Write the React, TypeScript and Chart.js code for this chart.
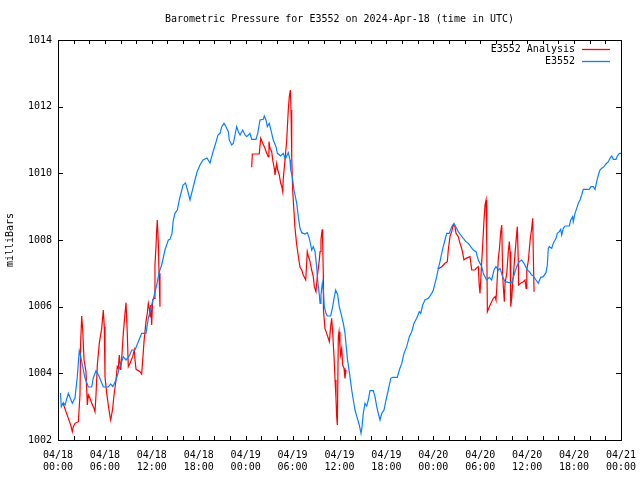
import React, { useEffect, useRef } from 'react';
import { Chart, registerables } from 'chart.js';

Chart.register(...registerables);

const TITLE = 'Barometric Pressure for E3552 on 2024-Apr-18 (time in UTC)';
const Y_LABEL = 'milliBars';
const SERIES_NAMES = ['E3552 Analysis', 'E3552'];
const SERIES_COLORS = ['#ff0000', '#0a80ff'];
const X_TICK_DATES = ['04/18', '04/18', '04/18', '04/18', '04/19', '04/19', '04/19', '04/19', '04/20', '04/20', '04/20', '04/20', '04/21'];
const X_TICK_TIMES = ['00:00', '06:00', '12:00', '18:00', '00:00', '06:00', '12:00', '18:00', '00:00', '06:00', '12:00', '18:00', '00:00'];
const Y_MIN = 1002;
const Y_MAX = 1014;
const HOURS_TOTAL = 72;

// E3552 observations: [hours since 04/18 00:00 UTC, pressure mb]
const e3552Obs: [number, number][] = [
  [0.32,1003.41],[0.42,1003.00],[0.68,1003.12],[0.90,1003.05],[1.32,1003.40],[1.83,1003.10],[2.17,1003.26],[2.47,1003.90],[2.72,1004.68],[2.90,1004.50],[3.16,1004.20],[3.45,1003.86],[3.88,1003.59],[4.31,1003.59],[4.51,1003.86],[4.86,1004.08],[5.28,1003.90],[5.79,1003.59],[6.43,1003.59],[6.74,1003.68],[7.00,1003.60],[7.42,1003.80],[7.76,1004.08],[8.35,1004.50],[8.70,1004.40],[9.12,1004.52],[9.43,1004.70],[9.85,1004.70],[10.27,1004.95],[10.70,1005.20],[11.25,1005.20],[11.55,1005.65],[11.98,1006.05],[12.28,1006.32],[12.62,1006.65],[12.96,1007.05],[13.26,1007.25],[13.68,1007.70],[14.11,1008.00],[14.32,1008.02],[14.58,1008.20],[14.75,1008.60],[14.96,1008.80],[15.26,1008.90],[15.51,1009.20],[15.99,1009.65],[16.31,1009.71],[16.63,1009.44],[16.88,1009.20],[17.26,1009.56],[17.78,1010.04],[18.16,1010.25],[18.54,1010.40],[19.05,1010.46],[19.44,1010.31],[19.82,1010.64],[20.21,1010.94],[20.46,1011.15],[20.72,1011.20],[20.94,1011.40],[21.23,1011.50],[21.49,1011.40],[21.78,1011.25],[21.91,1011.00],[22.21,1010.85],[22.42,1010.90],[22.64,1011.15],[22.85,1011.40],[23.06,1011.25],[23.28,1011.15],[23.62,1011.30],[23.92,1011.15],[24.13,1011.10],[24.55,1011.20],[24.77,1011.02],[25.32,1011.02],[25.54,1011.20],[25.83,1011.60],[26.26,1011.62],[26.38,1011.72],[26.60,1011.60],[26.77,1011.40],[27.02,1011.50],[27.33,1011.20],[27.53,1011.00],[27.88,1010.80],[28.05,1010.60],[28.48,1010.52],[28.81,1010.60],[29.07,1010.43],[29.45,1010.62],[29.67,1010.40],[29.76,1010.10],[29.96,1009.90],[30.18,1009.50],[30.53,1009.10],[30.73,1008.70],[30.95,1008.35],[31.17,1008.22],[31.59,1008.18],[31.88,1008.22],[32.14,1008.05],[32.32,1007.85],[32.44,1007.70],[32.65,1007.80],[32.87,1007.65],[33.08,1007.20],[33.21,1006.80],[33.42,1006.35],[33.51,1006.10],[33.63,1006.35],[33.80,1006.70],[33.93,1006.50],[34.06,1006.00],[34.27,1005.80],[34.44,1005.72],[34.87,1005.72],[35.13,1006.00],[35.30,1006.25],[35.51,1006.50],[35.77,1006.35],[35.97,1006.00],[36.19,1005.80],[36.49,1005.50],[36.70,1005.21],[37.00,1004.45],[37.34,1003.90],[37.56,1003.50],[37.77,1003.20],[37.98,1002.90],[38.28,1002.65],[38.53,1002.45],[38.75,1002.20],[38.88,1002.40],[39.04,1002.80],[39.26,1003.10],[39.48,1003.02],[39.68,1003.20],[39.90,1003.48],[40.32,1003.48],[40.54,1003.30],[40.76,1003.00],[40.96,1002.80],[41.18,1002.60],[41.40,1002.80],[41.69,1002.90],[41.95,1003.20],[42.24,1003.50],[42.55,1003.85],[42.80,1003.88],[43.39,1003.88],[43.65,1004.10],[43.96,1004.30],[44.25,1004.60],[44.59,1004.80],[44.93,1005.10],[45.23,1005.25],[45.53,1005.50],[45.87,1005.65],[46.21,1005.85],[46.39,1005.80],[46.64,1006.05],[46.93,1006.20],[47.36,1006.25],[47.79,1006.40],[48.00,1006.50],[48.21,1006.70],[48.43,1006.90],[48.64,1007.15],[48.85,1007.35],[49.07,1007.60],[49.27,1007.80],[49.49,1008.00],[49.71,1008.20],[50.04,1008.20],[50.35,1008.40],[50.64,1008.50],[50.90,1008.38],[51.19,1008.25],[51.50,1008.15],[51.83,1008.05],[52.18,1007.95],[52.47,1007.90],[52.78,1007.80],[53.11,1007.70],[53.46,1007.65],[53.75,1007.40],[54.19,1007.20],[54.39,1007.00],[54.82,1006.80],[55.16,1006.88],[55.46,1006.80],[55.76,1007.10],[56.01,1007.20],[56.31,1007.10],[56.53,1007.15],[56.87,1006.90],[57.17,1006.75],[57.72,1006.72],[58.02,1006.72],[58.32,1006.95],[58.66,1007.20],[58.99,1007.35],[59.30,1007.40],[59.60,1007.30],[60.02,1007.10],[60.28,1007.05],[60.58,1006.95],[60.79,1006.92],[61.13,1006.80],[61.42,1006.70],[61.73,1006.88],[62.06,1006.90],[62.41,1007.02],[62.58,1007.25],[62.70,1007.75],[62.83,1007.80],[63.14,1007.75],[63.34,1007.90],[63.69,1008.05],[63.85,1008.20],[64.11,1008.25],[64.29,1008.32],[64.42,1008.15],[64.62,1008.35],[64.84,1008.42],[65.39,1008.42],[65.57,1008.60],[65.82,1008.70],[65.90,1008.55],[66.12,1008.80],[66.34,1008.95],[66.54,1009.10],[66.76,1009.20],[66.97,1009.35],[67.18,1009.52],[67.95,1009.52],[68.16,1009.60],[68.46,1009.60],[68.68,1009.52],[68.89,1009.75],[69.10,1009.95],[69.31,1010.10],[69.53,1010.15],[69.83,1010.20],[70.08,1010.28],[70.38,1010.35],[70.59,1010.45],[70.81,1010.52],[71.02,1010.42],[71.36,1010.42],[71.53,1010.52],[71.79,1010.60],[72.00,1010.60]
];

// E3552 Analysis, three separate runs (gaps between them)
const analysisRun1: [number, number][] = [
  [0.64,1003.11],[0.77,1003.02],[1.02,1002.85],[1.32,1002.65],[1.62,1002.45],[1.83,1002.25],[1.96,1002.40],[2.17,1002.50],[2.60,1002.55],[2.81,1003.35],[2.90,1004.95],[3.03,1005.72],[3.16,1005.30],[3.33,1004.40],[3.58,1004.05],[3.75,1003.05],[3.88,1003.35],[4.09,1003.25],[4.31,1003.10],[4.60,1002.95],[4.73,1002.85],[4.86,1003.35],[5.03,1004.25],[5.28,1004.90],[5.59,1005.35],[5.79,1005.90],[5.92,1005.40],[6.01,1003.90],[6.23,1003.40],[6.43,1003.05],[6.65,1002.70],[6.74,1002.60],[7.00,1002.95],[7.16,1003.35],[7.42,1003.80],[7.58,1004.20],[7.71,1004.15],[7.84,1004.55],[8.02,1004.10],[8.15,1004.45],[8.35,1005.20],[8.57,1005.80],[8.70,1006.12],[8.86,1005.20],[8.99,1004.20],[9.21,1004.30],[9.55,1004.50],[9.76,1004.70],[9.85,1004.40],[9.98,1004.12],[10.49,1004.05],[10.70,1003.98],[10.83,1004.40],[11.00,1004.95],[11.25,1005.55],[11.42,1005.80],[11.55,1006.10],[11.68,1005.95],[11.77,1005.70],[11.86,1006.05],[11.98,1005.45],[12.11,1006.20],[12.28,1006.25],[12.40,1007.25],[12.53,1007.80],[12.62,1008.30],[12.70,1008.60],[12.83,1007.90],[12.92,1007.00],[13.04,1006.00]
];
const analysisRun2: [number, number][] = [
  [24.77,1010.18],[24.85,1010.58],[25.74,1010.58],[25.92,1011.05],[26.18,1010.90],[26.47,1010.75],[26.69,1010.60],[26.89,1010.50],[26.98,1010.95],[27.11,1010.75],[27.33,1010.65],[27.46,1010.40],[27.66,1010.15],[27.75,1009.95],[27.97,1010.30],[28.10,1010.10],[28.30,1009.95],[28.48,1009.70],[28.61,1009.62],[28.74,1009.45],[28.81,1009.85],[29.03,1010.40],[29.25,1011.00],[29.45,1011.90],[29.58,1012.30],[29.71,1012.50],[29.80,1011.90],[29.89,1010.50],[30.01,1009.50],[30.18,1008.85],[30.31,1008.35],[30.53,1007.85],[30.73,1007.52],[30.95,1007.18],[31.17,1007.10],[31.37,1006.95],[31.68,1006.80],[31.88,1007.65],[32.01,1007.52],[32.23,1007.35],[32.44,1007.10],[32.65,1006.90],[32.78,1006.60],[32.99,1006.45],[33.16,1006.90],[33.29,1007.15],[33.42,1007.40],[33.51,1007.65],[33.63,1008.00],[33.72,1008.20],[33.80,1008.32],[33.85,1007.90],[33.93,1006.95],[33.95,1005.90],[34.14,1005.35],[34.36,1005.20],[34.57,1005.05],[34.70,1004.95],[34.87,1005.40],[35.00,1005.65],[35.13,1005.20],[35.30,1004.50],[35.43,1003.80],[35.55,1003.25],[35.64,1002.70],[35.72,1002.45],[35.85,1005.10],[35.94,1005.25],[36.06,1004.80],[36.15,1004.55],[36.28,1004.75],[36.41,1004.25],[36.58,1004.15],[36.70,1003.85],[36.83,1004.10]
];
const analysisRun3: [number, number][] = [
  [48.53,1007.16],[48.76,1007.15],[49.07,1007.20],[49.49,1007.30],[49.79,1007.35],[49.91,1007.70],[50.13,1008.10],[50.35,1008.25],[50.55,1008.45],[50.77,1008.40],[50.90,1008.20],[51.19,1008.10],[51.41,1007.90],[51.63,1007.75],[51.76,1007.60],[51.92,1007.40],[52.18,1007.45],[52.47,1007.48],[52.69,1007.50],[52.91,1007.10],[53.33,1007.10],[53.46,1007.15],[53.75,1007.20],[53.88,1006.60],[53.97,1006.40],[54.19,1007.35],[54.31,1007.85],[54.48,1008.60],[54.61,1009.05],[54.74,1009.20],[54.83,1007.90],[54.91,1005.85],[55.16,1006.00],[55.46,1006.15],[55.68,1006.25],[55.89,1006.30],[56.01,1006.20],[56.10,1006.50],[56.31,1007.45],[56.44,1007.70],[56.62,1008.25],[56.75,1008.45],[56.87,1006.90],[56.95,1006.60],[57.08,1006.15],[57.17,1006.70],[57.39,1007.00],[57.59,1007.65],[57.72,1007.95],[57.81,1007.65],[57.90,1006.00],[58.02,1006.25],[58.15,1006.70],[58.32,1007.20],[58.45,1007.60],[58.66,1008.20],[58.74,1008.40],[58.87,1007.30],[58.90,1006.65],[59.18,1006.70],[59.51,1006.75],[59.73,1006.80],[59.86,1006.55],[59.95,1007.10],[60.16,1007.40],[60.38,1008.00],[60.58,1008.35],[60.71,1008.65],[60.79,1007.50],[60.88,1006.45]
];

const FONT_FAMILY = '"DejaVu Sans Mono", "Liberation Mono", monospace';

function toPoints(run: [number, number][]) {
  return run.map(([x, y]) => ({ x, y }));
}

const analysisPoints = [
  ...toPoints(analysisRun1),
  { x: 18, y: null as any },
  ...toPoints(analysisRun2),
  { x: 42, y: null as any },
  ...toPoints(analysisRun3),
];

const framePlugin = {
  id: 'gnuFrame',
  beforeDatasetsDraw(chart: any) {
    const { ctx, chartArea: a, scales } = chart;
    const xs = scales.x;
    const ys = scales.y;
    ctx.save();
    ctx.strokeStyle = '#000';
    ctx.lineWidth = 1;
    ctx.strokeRect(Math.round(a.left) + 0.5, Math.round(a.top) + 0.5, Math.round(a.right - a.left), Math.round(a.bottom - a.top));
    ctx.beginPath();
    for (let h = 2; h < HOURS_TOTAL; h += 2) {
      const px = Math.round(xs.getPixelForValue(h)) + 0.5;
      ctx.moveTo(px, a.bottom);
      ctx.lineTo(px, a.bottom - 4);
      ctx.moveTo(px, a.top);
      ctx.lineTo(px, a.top + 4);
    }
    for (let v = Y_MIN + 2; v < Y_MAX; v += 2) {
      const py = Math.round(ys.getPixelForValue(v)) + 0.5;
      ctx.moveTo(a.left, py);
      ctx.lineTo(a.left + 5, py);
      ctx.moveTo(a.right, py);
      ctx.lineTo(a.right - 5, py);
    }
    ctx.stroke();
    ctx.restore();
  },
  afterDraw(chart: any) {
    const { ctx, chartArea: a } = chart;
    ctx.save();
    ctx.font = `10px ${FONT_FAMILY}`;
    ctx.fillStyle = '#000';
    ctx.textBaseline = 'middle';
    ctx.textAlign = 'center';
    ctx.fillText(TITLE, (a.left + a.right) / 2, 19);
    const rows = [49, 61];
    SERIES_NAMES.forEach((name, i) => {
      const y = rows[i];
      ctx.textAlign = 'right';
      ctx.fillStyle = '#000';
      ctx.fillText(name, 575, y);
      ctx.strokeStyle = SERIES_COLORS[i];
      ctx.lineWidth = 1.3;
      ctx.beginPath();
      ctx.moveTo(582, y + 0.5);
      ctx.lineTo(610, y + 0.5);
      ctx.stroke();
    });
    ctx.restore();
  },
};

export default function App() {
  const ref = useRef<HTMLCanvasElement>(null);
  useEffect(() => {
    if (!ref.current) return;
    const chart = new Chart(ref.current, {
      type: 'line',
      data: {
        datasets: [
          {
            label: SERIES_NAMES[0],
            data: analysisPoints as any,
            borderColor: SERIES_COLORS[0],
            borderWidth: 1.2,
            pointRadius: 0,
            tension: 0,
            spanGaps: false,
            order: 1,
          },
          {
            label: SERIES_NAMES[1],
            data: toPoints(e3552Obs) as any,
            borderColor: SERIES_COLORS[1],
            borderWidth: 1.2,
            pointRadius: 0,
            tension: 0,
            order: 0,
          },
        ],
      },
      options: {
        animation: false,
        responsive: false,
        layout: { padding: { top: 40, right: 19, left: 0, bottom: 0 } },
        plugins: {
          legend: { display: false },
          title: { display: false },
          tooltip: { enabled: false },
        },
        scales: {
          x: {
            type: 'linear',
            min: 0,
            max: HOURS_TOTAL,
            grid: { display: false, drawTicks: false },
            border: { display: false },
            ticks: {
              stepSize: 6,
              autoSkip: false,
              maxRotation: 0,
              padding: 9,
              color: '#000',
              font: { family: FONT_FAMILY, size: 10, lineHeight: 1.2 },
              callback: (v: any) => {
                const i = Math.round(Number(v) / 6);
                return [X_TICK_DATES[i], X_TICK_TIMES[i]];
              },
            },
            afterFit: (s: any) => {
              s.height = 40;
              s.paddingLeft = 0;
              s.paddingRight = 0;
            },
          },
          y: {
            type: 'linear',
            min: Y_MIN,
            max: Y_MAX,
            grid: { display: false, drawTicks: false },
            border: { display: false },
            ticks: {
              stepSize: 2,
              padding: 6,
              color: '#000',
              font: { family: FONT_FAMILY, size: 10, lineHeight: 1.2 },
              callback: (v: any) => String(v),
            },
            title: {
              display: true,
              text: Y_LABEL,
              color: '#000',
              font: { family: FONT_FAMILY, size: 10, lineHeight: 1.2 },
              padding: { top: 4, bottom: 0 },
            },
            afterFit: (s: any) => {
              s.width = 58;
              s.paddingTop = 0;
              s.paddingBottom = 0;
            },
          },
        },
      },
      plugins: [framePlugin],
    });
    return () => chart.destroy();
  }, []);
  return (
    <canvas
      ref={ref}
      width={640}
      height={480}
      style={{ position: 'absolute', left: 0, top: 0, width: 640, height: 480, background: '#fff' }}
    />
  );
}
